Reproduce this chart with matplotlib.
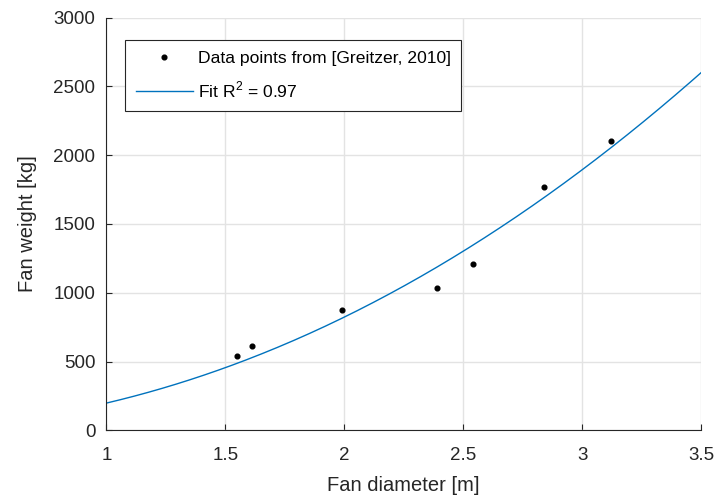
import numpy as np
import matplotlib
matplotlib.use("Agg")
import matplotlib.pyplot as plt

plt.rcParams["font.family"] = ["Liberation Sans", "DejaVu Sans"]
plt.rcParams["mathtext.fontset"] = "custom"
plt.rcParams["mathtext.rm"] = "Liberation Sans"

# Data points from [Greitzer, 2010]
fan_diameter = [1.55, 1.61, 1.99, 2.39, 2.54, 2.84, 3.12]
fan_weight = [540, 612, 872, 1034, 1206, 1770, 2099]

# power-law fit W = a * D^b
fit_a = 198.0
fit_b = 2.055
fit_r2 = 0.97

text_col = "#262626"
line_col = "#0072BD"

fig = plt.figure(figsize=(7.18, 5.03), dpi=100)
ax = fig.add_axes([0.1483, 0.1445, 0.8280, 0.8207])

d = np.linspace(1, 3.5, 300)
ax.plot(fan_diameter, fan_weight, "o", color="black", markersize=3.4,
        linestyle="none", label="Data points from [Greitzer, 2010]")
ax.plot(d, fit_a * d ** fit_b, color=line_col, linewidth=1.0,
        label="Fit R$^2$ = %.2f" % fit_r2)

ax.set_xlim(1, 3.5)
ax.set_ylim(0, 3000)
ax.set_xticks([1, 1.5, 2, 2.5, 3, 3.5])
ax.set_xticklabels(["1", "1.5", "2", "2.5", "3", "3.5"])
ax.set_yticks(np.arange(0, 3001, 500))

ax.grid(True, color="#e3e3e3", linewidth=1.0)
ax.set_axisbelow(True)
for s in ["top", "right"]:
    ax.spines[s].set_visible(False)
for s in ["left", "bottom"]:
    ax.spines[s].set_color(text_col)
    ax.spines[s].set_linewidth(0.8)
ax.tick_params(direction="in", length=4, width=0.8, colors=text_col,
               labelsize=13.5)
ax.tick_params(axis="x", pad=12)
ax.tick_params(axis="y", pad=8)

ax.set_xlabel("Fan diameter [m]", fontsize=14.5, color=text_col, labelpad=9)
ax.set_ylabel("Fan weight [kg]", fontsize=14.5, color=text_col, labelpad=12)

leg = ax.legend(loc="upper left", bbox_to_anchor=(0.0316, 0.9455),
                borderaxespad=0, fancybox=False, fontsize=12.6,
                edgecolor=text_col, framealpha=1, handlelength=3.25,
                handletextpad=0.3, borderpad=0.6, labelspacing=0.8)
leg.get_frame().set_linewidth(0.8)
for t in leg.get_texts():
    t.set_color("black")

fig.savefig("out.png", dpi=100)
